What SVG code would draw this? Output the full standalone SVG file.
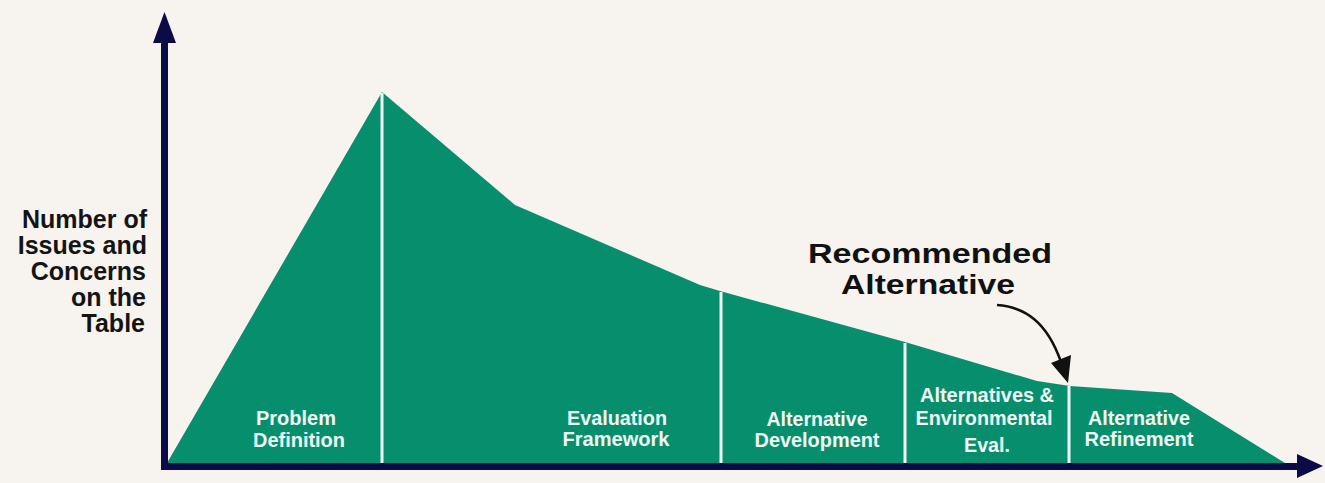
<svg xmlns="http://www.w3.org/2000/svg" width="1325" height="483" viewBox="0 0 1325 483">
  <style>
    .lbl { font-family: "Liberation Sans", Arial, sans-serif; font-weight: bold; fill: #f2f8f4; font-size: 20px; text-anchor: middle; }
    .ylab { font-family: "Liberation Sans", Arial, sans-serif; font-weight: bold; fill: #141414; font-size: 25px; text-anchor: end; }
    .rec { font-family: "Liberation Sans", Arial, sans-serif; font-weight: bold; fill: #111; font-size: 27px; text-anchor: middle; }
    .div { stroke: #eef7f3; stroke-width: 3; }
    .axis { fill: #0b0b47; }
  </style>
  <rect width="1325" height="483" fill="#f7f3ee"/>

  <g id="area">
    <polygon points="167,463 382,92 515,205 700,285 720,291 905,342 1037,381 1070,386 1172,393 1285,463" fill="#078f6d"/>
  </g>

  <g id="dividers">
    <line class="div" x1="382" y1="93" x2="382" y2="463"/>
    <line class="div" x1="721" y1="292" x2="721" y2="463"/>
    <line class="div" x1="905" y1="343" x2="905" y2="463"/>
    <line class="div" x1="1069" y1="386" x2="1069" y2="463"/>
  </g>

  <g id="axes">
    <rect class="axis" x="161" y="40" width="7" height="430"/>
    <polygon class="axis" points="164.5,12 176,43 153,43"/>
    <rect class="axis" x="161" y="463" width="1140" height="7"/>
    <polygon class="axis" points="1323,466 1297,454 1297,478"/>
  </g>

  <g id="ylabel">
    <text class="ylab" x="147" y="228">Number of</text>
    <text class="ylab" x="147" y="254">Issues and</text>
    <text class="ylab" x="146" y="280">Concerns</text>
    <text class="ylab" x="146" y="306">on the</text>
    <text class="ylab" x="145" y="332">Table</text>
  </g>

  <g id="phase-problem">
    <text class="lbl" x="296" y="425" textLength="80" lengthAdjust="spacingAndGlyphs">Problem</text>
    <text class="lbl" x="299" y="447" textLength="92" lengthAdjust="spacingAndGlyphs">Definition</text>
  </g>
  <g id="phase-evaluation">
    <text class="lbl" x="617" y="425" textLength="100" lengthAdjust="spacingAndGlyphs">Evaluation</text>
    <text class="lbl" x="616" y="446" textLength="107" lengthAdjust="spacingAndGlyphs">Framework</text>
  </g>
  <g id="phase-development">
    <text class="lbl" x="817" y="426" textLength="101" lengthAdjust="spacingAndGlyphs">Alternative</text>
    <text class="lbl" x="817" y="447" textLength="125" lengthAdjust="spacingAndGlyphs">Development</text>
  </g>
  <g id="phase-environmental">
    <text class="lbl" x="987" y="402" textLength="134" lengthAdjust="spacingAndGlyphs">Alternatives &amp;</text>
    <text class="lbl" x="984" y="425" textLength="137" lengthAdjust="spacingAndGlyphs">Environmental</text>
    <text class="lbl" x="987" y="452" textLength="46" lengthAdjust="spacingAndGlyphs">Eval.</text>
  </g>
  <g id="phase-refinement">
    <text class="lbl" x="1139" y="425" textLength="102" lengthAdjust="spacingAndGlyphs">Alternative</text>
    <text class="lbl" x="1139" y="446" textLength="109" lengthAdjust="spacingAndGlyphs">Refinement</text>
  </g>

  <g id="recommended">
    <text class="rec" x="930" y="263" textLength="244" lengthAdjust="spacingAndGlyphs">Recommended</text>
    <text class="rec" x="928" y="294" textLength="174" lengthAdjust="spacingAndGlyphs">Alternative</text>
  </g>

  <g id="connectors">
    <path d="M997,305 C1025,307 1047,322 1061,362" fill="none" stroke="#111" stroke-width="2.5"/>
    <polygon points="1068,383 1051,363 1071,355" fill="#111"/>
  </g>
</svg>
